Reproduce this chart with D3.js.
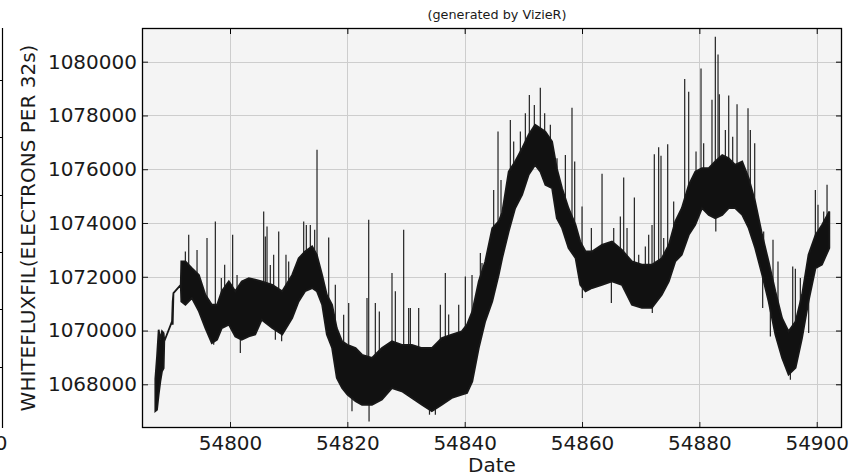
<!DOCTYPE html>
<html>
<head>
<meta charset="utf-8">
<script src="https://cdn.jsdelivr.net/npm/d3@7/dist/d3.min.js"></script>
<style>
	body { margin: 0; background: #fff; }
	svg { display: block; font-family: 'DejaVu Sans', sans-serif; }
</style>
</head>
<body>
<svg id="chart" width="850" height="476"></svg>
<script>
// Light curve envelope (dense band)
const dates = [
	54787.27, 54787.56, 54787.84, 54788.13, 54788.41, 54788.69, 54788.80, 54790.12, 54790.23, 54790.36,
	54791.60, 54791.70, 54792.40, 54793.50, 54794.70, 54795.80, 54796.90, 54797.80, 54798.60, 54799.80,
	54800.90, 54802.00, 54803.20, 54804.30, 54805.40, 54807.20, 54808.90, 54810.60, 54811.70, 54812.80,
	54814.00, 54814.80, 54815.70, 54816.50, 54817.40, 54818.20, 54819.10, 54820.00, 54821.40, 54822.50,
	54824.20, 54825.90, 54827.60, 54829.30, 54831.00, 54832.70, 54834.40, 54836.10, 54837.80, 54839.50,
	54840.40, 54841.30, 54842.40, 54843.50, 54844.70, 54845.80, 54846.40, 54847.50, 54848.60, 54849.80,
	54850.90, 54852.00, 54852.90, 54853.75, 54854.90, 54855.70, 54856.60, 54857.70, 54858.90, 54859.70,
	54860.60, 54861.70, 54863.40, 54865.10, 54866.80, 54868.50, 54870.20, 54871.90, 54873.60, 54874.80,
	54875.90, 54877.00, 54878.20, 54879.30, 54880.45, 54881.60, 54882.70, 54883.90, 54885.00, 54886.10,
	54887.30, 54888.40, 54889.50, 54890.70, 54891.80, 54892.95, 54894.10, 54895.20, 54896.40, 54897.50,
	54898.60, 54899.80, 54900.90, 54902.15
];
const fluxLow = [
	1067000, 1067050, 1067620, 1068110, 1068480, 1068600, 1069600, 1070340, 1070220, 1071390,
	1071700, 1071080, 1070960, 1071210, 1070710, 1070090, 1069530, 1069660, 1070090, 1070220,
	1069780, 1069660, 1069780, 1069850, 1070400, 1070090, 1069850, 1070460, 1071080, 1071460,
	1071580, 1071460, 1070960, 1069850, 1069350, 1068240, 1067860, 1067620, 1067370, 1067240,
	1067240, 1067430, 1067860, 1067740, 1067490, 1067240, 1067000, 1067240, 1067490, 1067620,
	1067680, 1068110, 1069350, 1070340, 1071080, 1072070, 1072700, 1073680, 1074550, 1075050,
	1075790, 1076160, 1075910, 1075420, 1075290, 1074180, 1073810, 1073070, 1072690, 1071700,
	1071460, 1071580, 1071700, 1071830, 1071700, 1070960, 1070840, 1070840, 1071330, 1071830,
	1072570, 1072820, 1073560, 1073930, 1074550, 1074300, 1074180, 1074300, 1074550, 1074550,
	1074300, 1073810, 1073070, 1072070, 1071080, 1069850, 1068980, 1068360, 1068610, 1069720,
	1071080, 1072320, 1072450, 1073070
];
const fluxHigh = [
	1068200, 1069040, 1070030, 1069660, 1069970, 1069900, 1069600, 1070340, 1071080, 1071390,
	1071700, 1072570, 1072570, 1072320, 1072070, 1071330, 1070960, 1070960, 1071460, 1071830,
	1071460, 1071830, 1071950, 1071890, 1071830, 1071700, 1071460, 1072070, 1072690, 1072940,
	1073130, 1072820, 1072070, 1071330, 1070960, 1070090, 1069600, 1069470, 1069350, 1069100,
	1068980, 1069350, 1069600, 1069470, 1069470, 1069350, 1069350, 1069720, 1069850, 1069970,
	1070220, 1070710, 1071830, 1072570, 1073810, 1074060, 1074400, 1075910, 1076290, 1076780,
	1077280, 1077650, 1077520, 1077400, 1077030, 1076040, 1075290, 1074550, 1073930, 1073310,
	1072940, 1072940, 1073190, 1073310, 1073000, 1072570, 1072450, 1072450, 1072690, 1073190,
	1074060, 1074550, 1075420, 1075910, 1076040, 1076040, 1076290, 1076530, 1076410, 1076160,
	1076290, 1075670, 1074800, 1073560, 1072570, 1071460, 1070460, 1069970, 1070340, 1071330,
	1072820, 1073560, 1073930, 1074430
];

// Isolated outliers sticking out of the band
const spikeDates = [
	54792.39, 54792.96, 54794.38, 54796.08, 54797.50, 54798.52, 54799.09, 54800.45, 54801.20, 54801.76,
	54797.22, 54805.74, 54806.31, 54807.44, 54808.30, 54809.54, 54812.56, 54813.01, 54813.69, 54814.43,
	54814.83, 54816.82, 54817.95, 54819.37, 54820.23, 54823.35, 54823.64, 54824.77, 54825.45, 54823.70,
	54820.79, 54807.73, 54808.80, 54827.61, 54828.18, 54829.60, 54832.16, 54835.85, 54836.70, 54840.11,
	54841.25, 54842.67, 54842.95, 54844.94, 54845.68, 54846.19, 54834.00, 54835.00, 54847.78, 54848.35,
	54849.49, 54850.34, 54851.02, 54851.87, 54852.89, 54853.63, 54854.60, 54855.74, 54857.16, 54858.29,
	54858.75, 54860.00, 54861.59, 54863.41, 54865.40, 54866.53, 54860.05, 54865.00, 54867.10, 54868.92,
	54870.79, 54871.93, 54872.32, 54873.06, 54873.46, 54874.60, 54875.62, 54877.50, 54878.18, 54879.43,
	54880.28, 54880.73, 54882.15, 54882.72, 54883.18, 54883.40, 54884.43, 54885.00, 54885.68, 54886.42,
	54882.80, 54871.98, 54888.29, 54888.69, 54889.43, 54890.96, 54892.55, 54893.40, 54895.91, 54896.36,
	54897.21, 54899.77, 54900.22, 54901.19, 54901.76, 54890.79, 54892.10, 54895.51, 54898.63,
	54830.45, 54830.74, 54837.27, 54838.98, 54806.02, 54806.87, 54810.00, 54867.67, 54869.66, 54871.36,
	54873.92
];
const spikeFlux = [
	1072940, 1073560, 1073000, 1073440, 1074060, 1071950, 1072450, 1073560, 1072070, 1069160,
	1069470, 1074430, 1073870, 1072820, 1073680, 1072820, 1074060, 1073930, 1073930, 1073750,
	1076720, 1073460, 1071700, 1070590, 1071020, 1071210, 1074120, 1071020, 1070710, 1066620,
	1067000, 1069660, 1069600, 1072140, 1071460, 1073750, 1070840, 1070960, 1072140, 1072010,
	1072070, 1072880, 1072510, 1075230, 1077400, 1075600, 1066870, 1066870, 1077830, 1077030,
	1077400, 1078080, 1078760, 1078390, 1079030, 1078080, 1077650, 1076410, 1076530, 1078290,
	1076290, 1074610, 1073810, 1075830, 1073810, 1074240, 1071210, 1071020, 1075690, 1074950,
	1073130, 1073930, 1076560, 1076820, 1076500, 1076930, 1074800, 1079360, 1078880, 1076660,
	1079750, 1076970, 1078580, 1080930, 1080270, 1078790, 1077460, 1078740, 1077210, 1078420,
	1073680, 1070650, 1078270, 1077460, 1076970, 1073680, 1073380, 1072570, 1072380, 1072300,
	1071950, 1075230, 1074680, 1074430, 1075420, 1070840, 1069780, 1068170, 1069910,
	1070840, 1070840, 1070600, 1070960, 1073500, 1072440, 1072570, 1073810, 1072820, 1073560,
	1073440
];

const xTicks = [54800, 54820, 54840, 54860, 54880, 54900];
const yTicks = [1068000, 1070000, 1072000, 1074000, 1076000, 1078000, 1080000];
const leftPanelTicks = [1, 2, 3, 4, 5, 6];

const svg = d3.select("#chart");
const margin = { top: 28, right: 8, bottom: 48, left: 142 };
const width = 850 - margin.left - margin.right,
	height = 476 - margin.top - margin.bottom;

const x = d3.scaleLinear().domain([54785.0, 54904.31]).range([0, width]);
const y = d3.scaleLinear().domain([1066375, 1081253]).range([height, 0]);

// Edge of the neighbouring panel, cut off at the left
const yl = d3.scaleLinear().domain([0, 7]).range([424, 22.7]);
const left = svg.append("g");
left.append("line")
	.attr("x1", 2.5).attr("x2", 2.5)
	.attr("y1", margin.top).attr("y2", margin.top + height)
	.attr("stroke", "#000").attr("stroke-width", 1.2);
left.selectAll(".lt")
	.data(leftPanelTicks)
	.enter().append("line")
		.attr("x1", -4).attr("x2", 2.5)
		.attr("y1", function(d) { return Math.round(yl(d)) + 0.5; })
		.attr("y2", function(d) { return Math.round(yl(d)) + 0.5; })
		.attr("stroke", "#000");
left.append("text")
	.attr("x", 1).attr("y", 450)
	.attr("text-anchor", "middle")
	.attr("font-size", 20)
	.attr("fill", "#1a1a1a")
	.text("0");

const g = svg.append("g").attr("transform", "translate(" + margin.left + "," + margin.top + ")");

// Plot background
g.append("rect")
	.attr("width", width).attr("height", height)
	.attr("fill", "#f4f4f4");

// Grid
g.append("g")
	.selectAll("line")
	.data(xTicks)
	.enter().append("line")
		.attr("x1", function(d) { return Math.round(x(d)) + 0.5; })
		.attr("x2", function(d) { return Math.round(x(d)) + 0.5; })
		.attr("y1", 0).attr("y2", height)
		.attr("stroke", "#cdcdcd");
g.append("g")
	.selectAll("line")
	.data(yTicks)
	.enter().append("line")
		.attr("y1", function(d) { return Math.round(y(d)) + 0.5; })
		.attr("y2", function(d) { return Math.round(y(d)) + 0.5; })
		.attr("x1", 0).attr("x2", width)
		.attr("stroke", "#cdcdcd");

svg.append("clipPath").attr("id", "clip")
	.append("rect").attr("width", width).attr("height", height);

const plot = g.append("g").attr("clip-path", "url(#clip)");

const band = dates.map(function(d, i) { return { date: d, lo: fluxLow[i], hi: fluxHigh[i] }; });

// Outliers: drawn from the middle of the band out to their value
function bandMid(d) {
	const i = d3.bisector(function(b) { return b.date; }).left(band, d);
	const a = band[Math.max(0, i - 1)], b = band[Math.min(band.length - 1, i)];
	const t = b.date === a.date ? 0 : (d - a.date) / (b.date - a.date);
	return ((a.lo + a.hi) / 2) * (1 - t) + ((b.lo + b.hi) / 2) * t;
}

plot.selectAll(".spike")
	.data(spikeDates.map(function(d, i) { return { date: d, flux: spikeFlux[i] }; }))
	.enter().append("line")
		.attr("class", "spike")
		.attr("x1", function(d) { return x(d.date); })
		.attr("x2", function(d) { return x(d.date); })
		.attr("y1", function(d) { return y(bandMid(d.date)); })
		.attr("y2", function(d) { return y(d.flux); })
		.attr("stroke", "#222")
		.attr("stroke-width", 1.2);

plot.append("path")
	.datum(band)
	.attr("fill", "#111")
	.attr("stroke", "#181818")
	.attr("stroke-width", 1.8)
	.attr("stroke-linejoin", "miter")
	.attr("d", d3.area()
		.x(function(d) { return x(d.date); })
		.y0(function(d) { return y(d.lo); })
		.y1(function(d) { return y(d.hi); }));

// Axes, ticks pointing inwards on all four sides
g.append("g")
	.attr("transform", "translate(0," + height + ")")
	.call(d3.axisBottom(x).tickValues(xTicks).tickSize(-6).tickPadding(8).tickFormat(d3.format("d")))
	.call(function(a) { a.select(".domain").remove(); })
	.attr("font-size", 20).attr("font-family", "'DejaVu Sans', sans-serif").attr("color", "#1a1a1a");

g.append("g")
	.call(d3.axisTop(x).tickValues(xTicks).tickSize(-6).tickFormat(""))
	.call(function(a) { a.select(".domain").remove(); });

g.append("g")
	.call(d3.axisLeft(y).tickValues(yTicks).tickSize(-6).tickPadding(5).tickFormat(d3.format("d")))
	.call(function(a) { a.select(".domain").remove(); })
	.attr("font-size", 20).attr("font-family", "'DejaVu Sans', sans-serif").attr("color", "#1a1a1a");

g.append("g")
	.attr("transform", "translate(" + width + ",0)")
	.call(d3.axisRight(y).tickValues(yTicks).tickSize(-6).tickFormat(""))
	.call(function(a) { a.select(".domain").remove(); });

// Frame
g.append("rect")
	.attr("x", 0.5).attr("y", 0.5)
	.attr("width", width - 1).attr("height", height - 1)
	.attr("fill", "none")
	.attr("stroke", "#000")
	.attr("stroke-width", 1.3);

// Labels
svg.append("text")
	.attr("x", margin.left + width / 2).attr("y", 472)
	.attr("text-anchor", "middle")
	.attr("font-size", 20).attr("fill", "#1a1a1a")
	.text("Date");

svg.append("text")
	.attr("transform", "translate(35," + (margin.top + height / 2) + ") rotate(-90)")
	.attr("text-anchor", "middle")
	.attr("font-size", 20).attr("fill", "#1a1a1a")
	.text("WHITEFLUXFIL(ELECTRONS PER 32s)");

svg.append("text")
	.attr("x", 497).attr("y", 19)
	.attr("text-anchor", "middle")
	.attr("font-size", 12.8).attr("fill", "#1a1a1a")
	.text("(generated by VizieR)");
</script>
</body>
</html>
